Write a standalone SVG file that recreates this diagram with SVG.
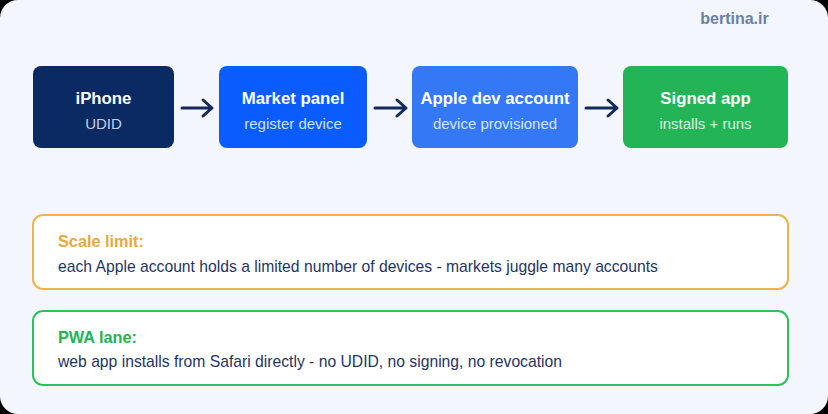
<svg xmlns="http://www.w3.org/2000/svg" width="828" height="414" viewBox="0 0 828 414">
<style>
.t{font-family:"Liberation Sans",Arial,sans-serif;font-weight:bold;font-size:16.8px;fill:#ffffff;text-anchor:middle}
.s{font-family:"Liberation Sans",Arial,sans-serif;font-size:15px;text-anchor:middle}
.h{font-family:"Liberation Sans",Arial,sans-serif;font-weight:bold;font-size:16.3px}
.b{font-family:"Liberation Sans",Arial,sans-serif;font-size:15.7px;fill:#1f3566}
.c{fill:none;stroke:#13295b;stroke-width:3;stroke-linecap:round;stroke-linejoin:round}
</style>
<rect width="828" height="414" fill="#000"/>
<rect width="828" height="414" rx="18" fill="#f3f6fc"/>
<text x="734.5" y="24" font-family="Liberation Sans, Arial, sans-serif" font-weight="bold" font-size="16" fill="#6b7fa6" text-anchor="middle">bertina.ir</text>
<g id="iphone">
<rect x="33" y="66" width="141" height="82" rx="8" fill="#0b2a63"/>
<text class="t" x="103.5" y="104">iPhone</text>
<text class="s" x="103.5" y="129" fill="#c5d0e6">UDID</text>
</g>
<g id="market">
<rect x="219" y="66" width="148" height="82" rx="8" fill="#0a5cff"/>
<text class="t" x="293" y="104">Market panel</text>
<text class="s" x="293" y="129" fill="#cfe0ff">register device</text>
</g>
<g id="apple">
<rect x="412" y="66" width="166" height="82" rx="8" fill="#3478f6"/>
<text class="t" x="495" y="104">Apple dev account</text>
<text class="s" x="495" y="129" fill="#d6e4fd">device provisioned</text>
</g>
<g id="signed">
<rect x="623" y="66" width="165" height="82" rx="8" fill="#22b455"/>
<text class="t" x="705.5" y="104">Signed app</text>
<text class="s" x="705.5" y="129" fill="#dcf5e4">installs + runs</text>
</g>
<g id="connectors">
<path class="c" d="M182 108H212M203 100L212 108L203 116"/>
<path class="c" d="M375 108H406M397 100L406 108L397 116"/>
<path class="c" d="M586 108H617M608 100L617 108L608 116"/>
</g>
<g id="scale">
<rect x="33" y="215" width="755" height="74" rx="10" fill="#ffffff" stroke="#f0b24a" stroke-width="2"/>
<text class="h" x="58" y="247" fill="#e8a93c">Scale limit:</text>
<text class="b" x="58" y="272">each Apple account holds a limited number of devices - markets juggle many accounts</text>
</g>
<g id="pwa">
<rect x="33" y="311" width="755" height="74" rx="10" fill="#ffffff" stroke="#2ec05a" stroke-width="2"/>
<text class="h" x="58" y="343" fill="#22b455">PWA lane:</text>
<text class="b" x="58" y="367">web app installs from Safari directly - no UDID, no signing, no revocation</text>
</g>
</svg>
